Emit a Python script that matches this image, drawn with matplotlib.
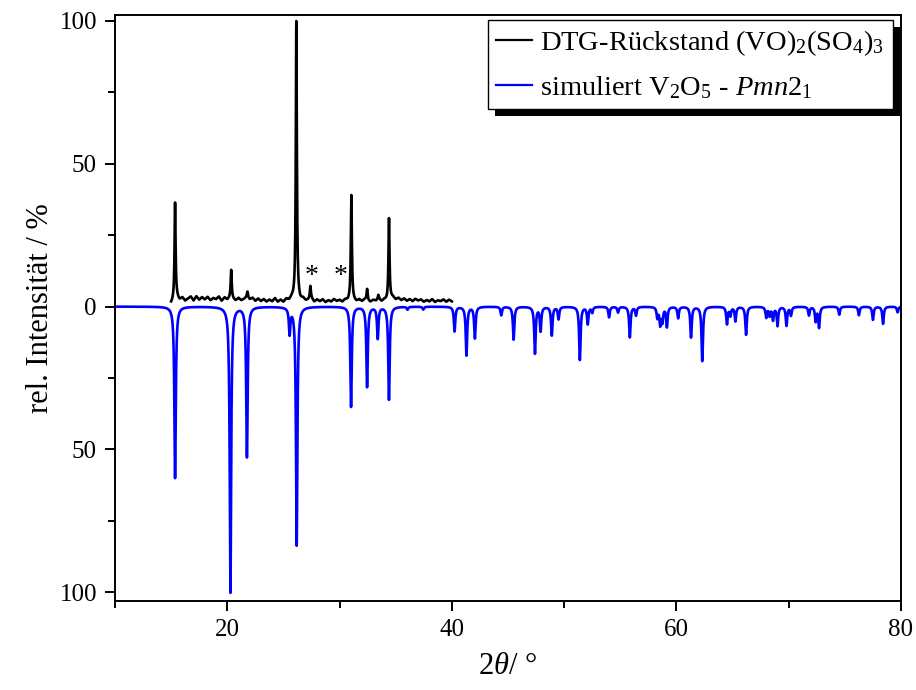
import numpy as np
import matplotlib
matplotlib.use("Agg")
import matplotlib.pyplot as plt
from matplotlib.ticker import FixedLocator, FuncFormatter
from matplotlib.patches import Rectangle
from matplotlib.transforms import IdentityTransform

plt.rcParams["font.family"] = ["Liberation Serif", "DejaVu Serif"]
plt.rcParams["mathtext.fontset"] = "custom"
plt.rcParams["mathtext.rm"] = "Liberation Serif"
plt.rcParams["mathtext.it"] = "Liberation Serif:italic"

# ---------------- data ----------------
# experimental (DTG residue): background readings from 15 to 40 deg, step 0.25 deg
exp_start, exp_step = 15.0, 0.25
exp_background = [
    1.0, 2.0, 3.0, 2.2,
    3.1, 2.0, 2.8, 3.5,
    2.1, 3.6, 2.4, 3.3,
    2.5, 3.4, 2.2, 3.0,
    2.6, 3.5, 2.0, 3.2,
    2.4, 3.0, 2.6, 2.1,
    3.0, 2.2, 2.7, 3.4,
    2.5, 3.1, 2.0, 2.8,
    1.9, 2.6, 1.7, 2.4,
    1.8, 2.9, 1.6, 2.3,
    1.5, 2.6, 2.0, 2.8,
    2.2, 2.5, 1.8, 2.6,
    1.9, 2.3, 2.7, 1.6,
    2.4, 1.8, 2.5, 1.5,
    2.2, 1.7, 2.6, 1.9,
    2.3, 1.6, 2.4, 2.0,
    2.6, 2.1, 1.7, 2.4,
    1.8, 2.5, 2.0, 1.6,
    2.3, 2.0, 2.6, 1.8,
    2.4, 2.0, 2.7, 3.2,
    2.4, 3.0, 2.2, 2.8,
    2.0, 2.6, 1.9, 2.7,
    2.1, 2.5, 1.7, 2.3,
    1.8, 2.6, 1.6, 2.2,
    1.9, 2.5, 1.7, 2.4,
    1.8,
]
exp_peak_pos = [15.35, 20.35, 21.8, 26.15, 27.4, 31.05, 32.45, 33.45, 34.4]
exp_peak_int = [34.0, 10.0, 2.0, 97.5, 4.5, 36.5, 4.0, 1.5, 28.5]

# simulated V2O5 - Pmn2_1 reflections (plotted downward)
sim_peak_pos = [15.35, 20.28, 21.75, 25.55, 26.18, 31.02, 32.45, 33.4, 34.4,
                36.05, 37.45, 40.24, 41.3, 42.05, 44.4, 45.5, 47.4, 47.9,
                48.9, 49.5, 51.4, 52.1, 52.5, 54.0, 54.8, 55.85, 56.4, 58.3,
                58.55, 58.75, 59.15, 60.15, 61.3, 62.3, 64.5, 64.8, 65.25,
                66.2, 68.0, 68.3, 68.6, 69.0, 69.8, 70.2, 71.8, 72.4, 72.7,
                74.5, 76.25, 77.5, 78.4, 79.7]
sim_peak_int = [60.0, 100.0, 52.5, 9.0, 83.5, 35.0, 28.0, 11.0, 32.5,
                1.0, 1.0, 8.6, 17.0, 11.0, 3.0, 11.5, 16.3, 8.4,
                10.0, 4.3, 18.6, 6.0, 2.0, 3.7, 2.0, 10.7, 3.0, 3.7,
                6.0, 5.0, 7.0, 4.0, 10.7, 19.0, 6.0, 3.0, 5.0,
                9.8, 3.7, 3.0, 4.5, 6.6, 6.6, 3.0, 3.0, 5.0, 7.2,
                2.8, 3.0, 4.6, 6.0, 2.0]

label_exp = r"DTG-Rückstand (VO)$_2$(SO$_4$)$_3$"
label_sim = r"simuliert V$_2$O$_5$ - $\mathit{Pmn}$2$_1$"
star_pos = [27.55, 30.05]
y_ticks = [-100, -50, 0, 50, 100]
y_minor = [-75, -25, 25, 75]
x_ticks = [20, 40, 60, 80]
x_minor = [10, 30, 50, 70]

# ---------------- profiles ----------------
def lorentz(x, pos, inten, hw):
    out = np.zeros_like(x)
    for p, h in zip(pos, inten):
        out += h * hw ** 2 / ((x - p) ** 2 + hw ** 2)
    return out

x_sim = np.arange(10.0, 80.0001, 0.01)
y_sim = -lorentz(x_sim, sim_peak_pos, sim_peak_int, 0.075)

bg_x = exp_start + exp_step * np.arange(len(exp_background))
x_exp = np.arange(bg_x[0], bg_x[-1] + 1e-6, 0.01)
y_exp = np.interp(x_exp, bg_x, exp_background) + lorentz(x_exp, exp_peak_pos, exp_peak_int, 0.055)

# ---------------- figure ----------------
fig = plt.figure(figsize=(9.16, 6.9), dpi=100)
ax = fig.add_axes([115 / 916, 89 / 690, 786 / 916, 586 / 690])

l_sim, = ax.plot(x_sim, y_sim, color="#0000ff", lw=1.9, label=label_sim)
l_exp, = ax.plot(x_exp, y_exp, color="black", lw=1.9, label=label_exp)

for xs in star_pos:
    ax.text(xs, 10.5, "*", ha="center", va="center", fontsize=20)

ax.set_xlim(10, 80)
ax.set_ylim(-103, 102)

ax.xaxis.set_major_locator(FixedLocator(x_ticks))
ax.xaxis.set_minor_locator(FixedLocator(x_minor))
ax.yaxis.set_major_locator(FixedLocator(y_ticks))
ax.yaxis.set_minor_locator(FixedLocator(y_minor))
ax.yaxis.set_major_formatter(FuncFormatter(lambda v, p: f"{abs(v):g}"))

ax.tick_params(axis="both", which="major", direction="out", length=7, width=1.4,
               labelsize=18, pad=6)
ax.tick_params(axis="both", which="minor", direction="out", length=5, width=1.4)
ax.tick_params(top=False, right=False, which="both")
for s in ax.spines.values():
    s.set_linewidth(1.4)

ax.set_ylabel("rel. Intensität / %", fontsize=22, labelpad=3)
ax.set_xlabel(r"2$\mathit{\theta}$/ °", fontsize=22, labelpad=8)

leg = ax.legend(handles=[l_exp, l_sim], loc="upper right",
                bbox_to_anchor=((893 - 115) / 786, (601 - 20) / 586),
                borderaxespad=0, fancybox=False, framealpha=1, fontsize=20.5,
                handlelength=1.25, handletextpad=0.3, labelspacing=0.55,
                borderpad=0.3)
leg.get_frame().set_edgecolor("black")
leg.get_frame().set_linewidth(1.0)
for h in leg.legend_handles:
    h.set_linewidth(1.6)

fig.canvas.draw()
bb = leg.get_window_extent()
shadow = Rectangle((bb.x0 + 7, bb.y0 - 7), bb.width, bb.height,
                   transform=IdentityTransform(), facecolor="black",
                   edgecolor="none", zorder=leg.get_zorder() - 0.1, clip_on=False)
ax.add_artist(shadow)

fig.savefig("out.png", dpi=100)
